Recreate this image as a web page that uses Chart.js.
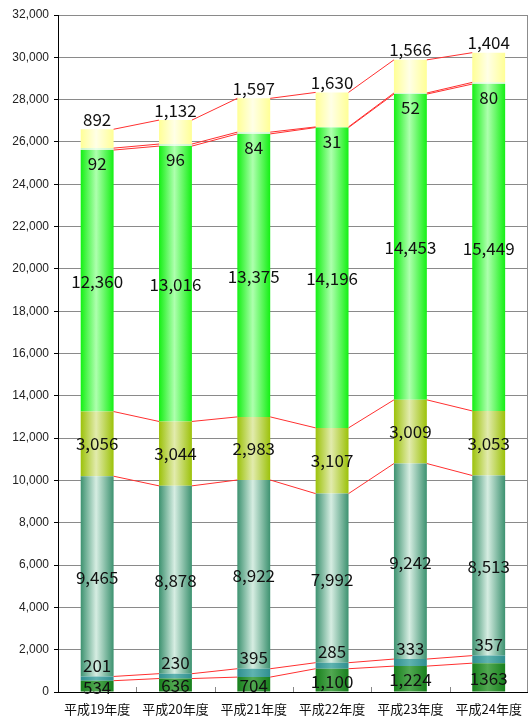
<!DOCTYPE html>
<html>
<head>
<meta charset="utf-8">
<script src="https://cdn.jsdelivr.net/npm/chart.js@4/dist/chart.umd.min.js"></script>
<style>
  html, body { margin: 0; padding: 0; background: #ffffff; }
  #wrap { width: 531px; height: 718px; position: relative; }
</style>
</head>
<body>
<div id="wrap"><canvas id="c" width="531" height="718"></canvas></div>
<script>
// Fiscal years (Heisei era)
const years = ['平成19年度', '平成20年度', '平成21年度', '平成22年度', '平成23年度', '平成24年度'];

// Stacked series, bottom to top
const seriesA = [534, 636, 704, 1100, 1224, 1363];
const seriesB = [201, 230, 395, 285, 333, 357];
const seriesC = [9465, 8878, 8922, 7992, 9242, 8513];
const seriesD = [3056, 3044, 2983, 3107, 3009, 3053];
const seriesE = [12360, 13016, 13375, 14196, 14453, 15449];
const seriesF = [92, 96, 84, 31, 52, 80];
const seriesG = [892, 1132, 1597, 1630, 1566, 1404];

// Value axis
const yMin = 0;
const yMax = 32000;
const yStep = 2000;

// Labels printed without thousands separator: [dataset, index]
const plainLabels = [[0, 5]];

// Bar fills: edge colour, highlight colour
const fills = [
  ['#17801c', '#52a852'],
  ['#2f8f8f', '#5fb3b0'],
  ['#3d9270', '#d6ede2'],
  ['#9cc20a', '#e2ebad'],
  ['#14f014', '#aeffae'],
  ['#c8f5c8', '#e8ffe8'],
  ['#ffff96', '#ffffe6']
];

// Label placement per dataset: mode and pixel nudge
const labelPlace = [
  { mode: 'center', dy: 1 },
  { mode: 'top', dy: -11 },
  { mode: 'center', dy: 1 },
  { mode: 'center', dy: 0 },
  { mode: 'center', dy: 1 },
  { mode: 'top', dy: 15 },
  { mode: 'top', dy: -10 }
];

const CAT_PCT = 0.42;

function gradientFill(edge, light) {
  return (ctx) => {
    const chart = ctx.chart;
    const xs = chart.scales && chart.scales.x;
    if (!chart.chartArea || !xs || ctx.type !== 'data') return edge;
    const cx = xs.getPixelForValue(ctx.dataIndex);
    const half = (xs.width / years.length) * CAT_PCT / 2;
    const g = chart.ctx.createLinearGradient(cx - half, 0, cx + half, 0);
    g.addColorStop(0, edge);
    g.addColorStop(0.47, light);
    g.addColorStop(1, edge);
    return g;
  };
}

const allSeries = [seriesA, seriesB, seriesC, seriesD, seriesE, seriesF, seriesG];

const datasets = allSeries.map((vals, i) => ({
  label: 'S' + (i + 1),
  data: vals,
  backgroundColor: gradientFill(fills[i][0], fills[i][1]),
  borderWidth: 0,
  categoryPercentage: CAT_PCT,
  barPercentage: 1
}));

// Red series lines joining matching segment tops of neighbouring bars
const seriesLines = {
  id: 'seriesLines',
  afterDatasetsDraw(chart) {
    const ctx = chart.ctx;
    ctx.save();
    ctx.strokeStyle = '#ff3030';
    ctx.lineWidth = 1;
    chart.data.datasets.forEach((ds, di) => {
      const meta = chart.getDatasetMeta(di);
      for (let i = 0; i < meta.data.length - 1; i++) {
        const a = meta.data[i], b = meta.data[i + 1];
        ctx.beginPath();
        ctx.moveTo(a.x + a.width / 2, a.y);
        ctx.lineTo(b.x - b.width / 2, b.y);
        ctx.stroke();
      }
    });
    ctx.restore();
  }
};

// Frame: grey right edge, inward category ticks on the base line
const frame = {
  id: 'frame',
  afterDraw(chart) {
    const ctx = chart.ctx;
    const a = chart.chartArea;
    const xs = chart.scales.x;
    ctx.save();
    ctx.strokeStyle = '#8c8c8c';
    ctx.lineWidth = 1;
    ctx.beginPath();
    ctx.moveTo(Math.round(a.right) - 0.5, a.top);
    ctx.lineTo(Math.round(a.right) - 0.5, a.bottom);
    ctx.stroke();
    ctx.strokeStyle = '#888888';
    const step = xs.width / years.length;
    for (let i = 1; i < years.length; i++) {
      const x = Math.round(xs.left + step * i) + 0.5;
      ctx.beginPath();
      ctx.moveTo(x, a.bottom);
      ctx.lineTo(x, a.bottom - 5);
      ctx.stroke();
    }
    ctx.restore();
  }
};

// Value labels
const valueLabels = {
  id: 'valueLabels',
  afterDraw(chart) {
    const ctx = chart.ctx;
    ctx.save();
    ctx.font = '17px "Noto Sans CJK JP", "DejaVu Sans", sans-serif';
    ctx.fillStyle = '#111111';
    ctx.textAlign = 'center';
    ctx.textBaseline = 'middle';
    chart.data.datasets.forEach((ds, di) => {
      const meta = chart.getDatasetMeta(di);
      const place = labelPlace[di];
      meta.data.forEach((el, i) => {
        const v = ds.data[i];
        const plain = plainLabels.some(p => p[0] === di && p[1] === i);
        const txt = plain ? String(v) : v.toLocaleString('en-US');
        let y = place.mode === 'center' ? (el.y + el.base) / 2 : el.y;
        ctx.fillText(txt, el.x, y + place.dy);
      });
    });
    ctx.restore();
  }
};

new Chart(document.getElementById('c'), {
  type: 'bar',
  data: { labels: years, datasets },
  plugins: [seriesLines, frame, valueLabels],
  options: {
    responsive: false,
    animation: false,
    devicePixelRatio: 1,
    layout: { padding: { top: 15, right: 1, left: 0, bottom: 0 } },
    plugins: {
      legend: { display: false },
      tooltip: { enabled: false }
    },
    scales: {
      x: {
        stacked: true,
        afterFit(scale) { scale.height = 26; },
        grid: { display: true, drawOnChartArea: false, drawTicks: false, color: '#888888' },
        border: { display: true, color: '#000000', width: 1 },
        ticks: {
          padding: 9,
          color: '#111111',
          font: { family: '"Noto Sans CJK JP", sans-serif', size: 13 }
        }
      },
      y: {
        stacked: true,
        min: yMin,
        max: yMax,
        afterFit(scale) { scale.width = 58; },
        grid: { color: '#8a8a8a', tickColor: '#000000', tickLength: 4 },
        border: { display: true, color: '#000000', width: 1 },
        ticks: {
          stepSize: yStep,
          padding: 5,
          color: '#222222',
          font: { family: '"Liberation Sans", Arial, sans-serif', size: 12 }
        }
      }
    }
  }
});
</script>
</body>
</html>
